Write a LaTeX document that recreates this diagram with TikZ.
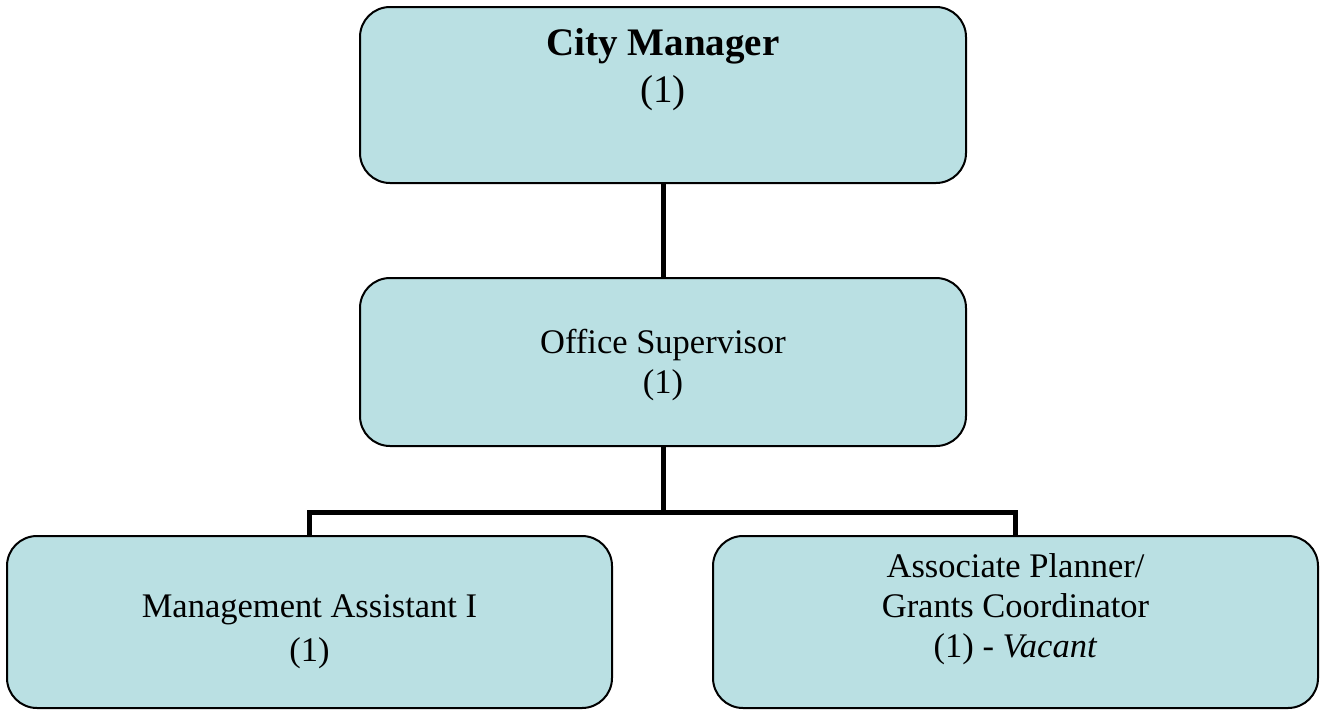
\documentclass[tikz,border=0pt]{standalone}
\usepackage{fontspec}
\setmainfont{Liberation Serif}
\definecolor{boxfill}{RGB}{186,224,227}
\newcommand{\topstrut}{\rule{0pt}{0.9em}}
\begin{document}
\begin{tikzpicture}[x=1pt,y=-1pt,
  box/.style={draw=black, line width=2pt, fill=boxfill, rounded corners=30pt, inner sep=0pt, outer sep=0pt},
  conn/.style={draw=black, line width=5pt},
  txt/.style={align=center, anchor=north, font=\fontsize{34.5}{40}\selectfont, inner sep=0pt},
  big/.style={align=center, anchor=north, font=\fontsize{39}{47}\selectfont, inner sep=0pt}]
\useasboundingbox (0,0) rectangle (1320,710);
\node[box, minimum width=606pt, minimum height=176pt] (cm) at (663,95) {};
\node[box, minimum width=606pt, minimum height=168pt] (os) at (663,362) {};
\node[box, minimum width=605pt, minimum height=172pt] (ma) at (309.5,622) {};
\node[box, minimum width=605pt, minimum height=172pt] (ap) at (1015.5,622) {};
\coordinate (j) at (663,512);
\draw[conn] (cm.south) -- (os.north);
\draw[conn] (os.south) -- (j);
\draw[conn] (ma.north) -- (ma.north |- j) -- (ap.north |- j) -- (ap.north);
\node[big] (cmt) at (663,19.9) {\topstrut\textbf{City Manager}\\(1)};
\node[txt] (ost) at (663,322) {\topstrut Office Supervisor\\(1)};
\node[txt, font=\fontsize{34.5}{44}\selectfont] (mat) at (309.5,586) {\topstrut Management Assistant I\\(1)};
\node[txt] (apt) at (1015.5,546) {\topstrut Associate Planner/\\Grants Coordinator\\(1) - \textit{Vacant}};
\end{tikzpicture}
\end{document}
